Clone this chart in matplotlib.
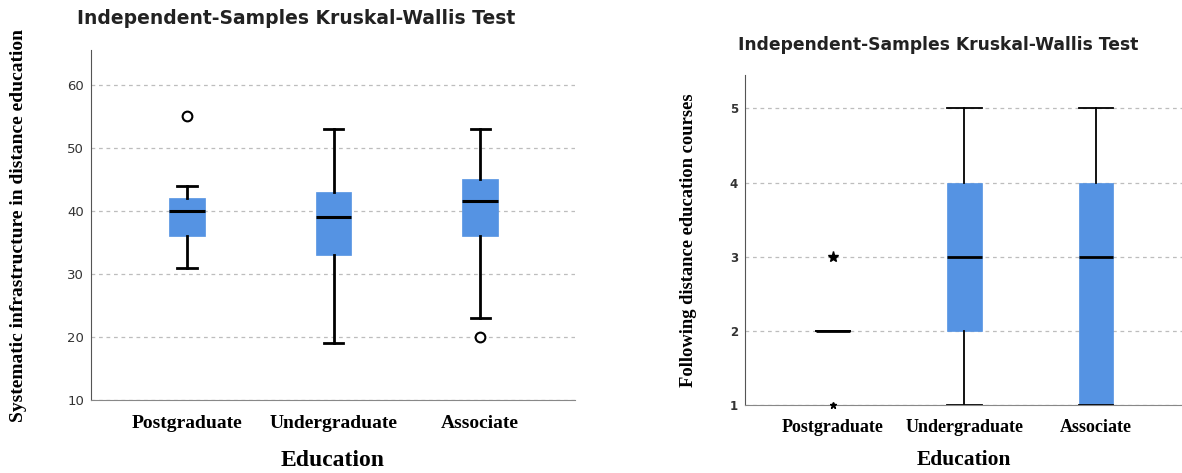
import matplotlib
matplotlib.use("Agg")
import matplotlib.pyplot as plt

categories = ["Postgraduate", "Undergraduate", "Associate"]

# Left panel: Systematic infrastructure in distance education
left_whislo = [31, 19, 23]
left_q1 = [36, 33, 36]
left_med = [40, 39, 41.5]
left_q3 = [42, 43, 45]
left_whishi = [44, 53, 53]
left_outliers = [[55], [], [20]]

# Right panel: Following distance education courses
right_whislo = [2, 1, 1]
right_q1 = [2, 2, 1]
right_med = [2, 3, 3]
right_q3 = [2, 4, 4]
right_whishi = [2, 5, 5]
right_extremes = [[3, 1], [], []]

BLUE = "#5593E3"
title = "Independent-Samples Kruskal-Wallis Test"

fig = plt.figure(figsize=(11.82, 4.73), dpi=100)

def stats(lo, q1, med, q3, hi, fl):
    out = []
    for i in range(len(categories)):
        out.append(dict(whislo=lo[i], q1=q1[i], med=med[i], q3=q3[i],
                        whishi=hi[i], fliers=fl[i], label=categories[i]))
    return out

def style(ax, yticks, ylim, xlim, tick_size, lab_size, ytick_size, ytick_weight, xpad, labpad):
    ax.set_ylim(*ylim)
    ax.set_xlim(*xlim)
    ax.set_yticks(yticks)
    ax.yaxis.grid(True, linestyle=(0, (3, 3)), color="#bdbdbd", linewidth=0.9)
    ax.set_axisbelow(True)
    for s in ["top", "right"]:
        ax.spines[s].set_visible(False)
    ax.spines["left"].set_color("#555555")
    ax.spines["bottom"].set_color("#888888")
    ax.tick_params(axis="both", length=0)
    ax.tick_params(axis="y", labelsize=ytick_size, labelcolor="#333333", pad=5)
    for lbl in ax.get_yticklabels():
        lbl.set_fontweight(ytick_weight)
    ax.tick_params(axis="x", pad=xpad)
    for lbl in ax.get_xticklabels():
        lbl.set_fontfamily("Liberation Serif")
        lbl.set_fontweight("bold")
        lbl.set_fontsize(tick_size)
    ax.set_xlabel("Education", fontfamily="Liberation Serif", fontweight="bold",
                  fontsize=lab_size, labelpad=labpad)

# Left axes
ax1 = fig.add_axes([91/1182, 1-400/473, (575-91)/1182, (400-50)/473])
ax1.bxp(stats(left_whislo, left_q1, left_med, left_q3, left_whishi, left_outliers),
        positions=[1, 2, 3], widths=0.245, patch_artist=True, showfliers=True,
        boxprops=dict(facecolor=BLUE, edgecolor=BLUE, linewidth=0.5),
        medianprops=dict(color="black", linewidth=2.2),
        whiskerprops=dict(color="black", linewidth=2),
        capprops=dict(color="black", linewidth=2),
        capwidths=0.13,
        flierprops=dict(marker="o", markersize=7, markerfacecolor="white",
                        markeredgecolor="black", markeredgewidth=1.5))
style(ax1, [10, 20, 30, 40, 50, 60], (10, 65.5), (0.345, 3.648), 14, 17, 9.5, "normal", 11, 13)
ax1.set_ylabel("Systematic infrastructure in distance education",
               fontfamily="Liberation Serif", fontweight="bold", fontsize=14)
ax1.yaxis.set_label_coords(-0.132, 0.5)
fig.text(296/1182, 1-18/473, title, ha="center", va="center",
         fontsize=13.5, fontweight="bold", color="#222222")

# Right axes
ax2 = fig.add_axes([745/1182, 1-405/473, (1182-745)/1182, (405-75)/473])
ax2.bxp(stats(right_whislo, right_q1, right_med, right_q3, right_whishi, [[] for _ in categories]),
        positions=[1, 2, 3], widths=0.26, patch_artist=True, showfliers=False,
        boxprops=dict(facecolor=BLUE, edgecolor=BLUE, linewidth=0.5),
        medianprops=dict(color="black", linewidth=2),
        whiskerprops=dict(color="black", linewidth=1.3),
        capprops=dict(color="black", linewidth=1.3),
        capwidths=0.26)
for i, ext in enumerate(right_extremes):
    for j, v in enumerate(ext):
        ax2.plot([i + 1], [v], marker="*", linestyle="none", color="black",
                 markersize=8 if j == 0 else 5, zorder=5, clip_on=False)
style(ax2, [1, 2, 3, 4, 5], (1, 5.45), (0.331, 3.654), 13, 15.5, 8.5, "bold", 10, 10)
ax2.set_ylabel("Following distance education courses",
               fontfamily="Liberation Serif", fontweight="bold", fontsize=13.3)
ax2.yaxis.set_label_coords(-0.11, 0.5)
fig.text(938/1182, 1-45/473, title, ha="center", va="center",
         fontsize=12.3, fontweight="bold", color="#222222")

fig.savefig("out.png", dpi=100)
